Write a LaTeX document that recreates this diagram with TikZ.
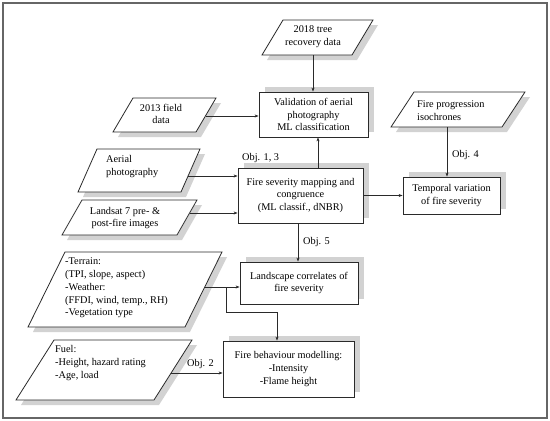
\documentclass[tikz,border=0pt]{standalone}
\usepackage{fontspec}
\setmainfont{Liberation Serif}
\usetikzlibrary{arrows.meta}
\definecolor{shadowgray}{HTML}{D2D2D2}
\definecolor{linegray}{HTML}{2A2A2A}
\definecolor{framegray}{HTML}{666666}
\tikzset{
  boxline/.style={draw=linegray, line width=0.8pt},
  txt/.style={font=\fontsize{10.3}{12.8}\selectfont, text=black, inner sep=0pt},
  rbox/.style={boxline, fill=white, font=\fontsize{10.3}{12.8}\selectfont, text=black, align=center, inner sep=0pt},
  arr/.style={draw=linegray, line width=0.7pt, -{Stealth[length=4pt,width=3pt]}},
  objlabel/.style={font=\fontsize{10.3}{12.8}\selectfont, text=black, inner sep=0pt, anchor=west}
}
% parallelogram: #1 x top-left, #2 y top, #3 width, #4 height, #5 slant
\newcommand\pgramshape[5]{%
  \fill[shadowgray, shift={(5,5)}] (#1,#2) -- ++(#3,0) -- ++(-#5,#4) -- ++(-#3,0) -- cycle;
  \draw[boxline, fill=white] (#1,#2) -- ++(#3,0) -- ++(-#5,#4) -- ++(-#3,0) -- cycle;
}
\begin{document}
\begin{tikzpicture}[x=1pt, y=-1pt]
\useasboundingbox (0,0) rectangle (550,421);
\draw[framegray, line width=1.3pt] (3,3) rectangle (547,418);

% ---------- parallelograms (inputs) ----------
\pgramshape{283}{20}{90}{35}{21}
\node[txt, align=center] (t2018) at (313,37) {2018 tree\\recovery data};

\pgramshape{133}{98}{83}{34}{20}
\node[txt, align=center] (t2013) at (161,114) {2013 field\\data};

\pgramshape{97}{149}{103}{43}{19}
\node[txt, align=left, anchor=west] (taer) at (106,166.5) {Aerial\\photography};

\pgramshape{82}{200}{115}{35}{20}
\node[txt, align=center] (tlan) at (125,218) {Landsat 7 pre- \&\\post-fire images};

\pgramshape{414}{92}{111}{35}{23}
\node[txt, align=left, anchor=west] (tfire) at (417,110.5) {Fire progression\\isochrones};

\pgramshape{65}{252}{157}{75}{37}
\node[txt, align=left, anchor=west] (tterr) at (65,288) {-Terrain:\\(TPI, slope, aspect)\\-Weather:\\(FFDI, wind, temp., RH)\\-Vegetation type};

\pgramshape{54}{340}{138}{60}{38}
\node[txt, align=left, anchor=west] (tfuel) at (55,363) {Fuel:\\-Height, hazard rating\\-Age, load};

% ---------- rectangle shadows ----------
\fill[shadowgray] (265,87) rectangle (374,132);
\fill[shadowgray] (244,163) rectangle (369,218);
\fill[shadowgray] (409,172) rectangle (506,209);
\fill[shadowgray] (246,257) rectangle (364,299);
\fill[shadowgray] (229,336) rectangle (360,392);

% ---------- rectangles ----------
\path (313.5,114.5) node[rbox, minimum width=109pt, minimum height=45pt] (val) {Validation of aerial\\photography\\ML classification};
\path (300.5,195.5) node[rbox, minimum width=125pt, minimum height=55pt] (sev) {Fire severity mapping and\\congruence\\(ML classif., dNBR)};
\path (451.5,195.5) node[rbox, minimum width=97pt, minimum height=37pt] (temp) {Temporal variation\\of fire severity};
\path (299,283) node[rbox, minimum width=118pt, minimum height=42pt] (land) {Landscape correlates of\\fire severity};
\path (288.5,369) node[rbox, minimum width=131pt, minimum height=56pt] (beh) {Fire behaviour modelling:\\-Intensity\\-Flame height};

% ---------- connector end points on parallelogram edges ----------
\coordinate (c2018) at (313,55);
\coordinate (c2013) at (205.5,116);
\coordinate (caer) at (188,176);
\coordinate (clan) at (189.5,213);
\coordinate (cfire) at (447,127);
\coordinate (cterr) at (205,287);
\coordinate (jn) at (226,287);
\coordinate (bend) at (277,312);
\coordinate (cfuel) at (171,373);

% ---------- connectors ----------
\draw[arr] (c2018) -- (c2018 |- val.north);
\draw[arr] (c2013) -- (c2013 -| val.west);
\draw[arr] (caer) -- (caer -| sev.west);
\draw[arr] (clan) -- (clan -| sev.west);
\draw[arr] ([xshift=17.5pt]sev.north) -- ([xshift=17.5pt]sev.north |- val.south);
\draw[arr] (sev.east) -- (temp.west);
\draw[arr] (cfire) -- (cfire |- temp.north);
\draw[arr] ([xshift=-2.5pt]sev.south) -- ([xshift=-2.5pt]sev.south |- land.north);
\draw[arr] (cterr) -- (cterr -| land.west);
\draw[arr] (jn) |- (bend) -- (bend |- beh.north);
\draw[arr] (cfuel) -- (cfuel -| beh.west);

% ---------- labels ----------
\node[objlabel] (o13) at (242,158) {Obj. 1, 3};
\node[objlabel] (o4) at (452,155) {Obj. 4};
\node[objlabel] (o5) at (303,242) {Obj. 5};
\node[objlabel] (o2) at (187,364) {Obj. 2};
\end{tikzpicture}
\end{document}
